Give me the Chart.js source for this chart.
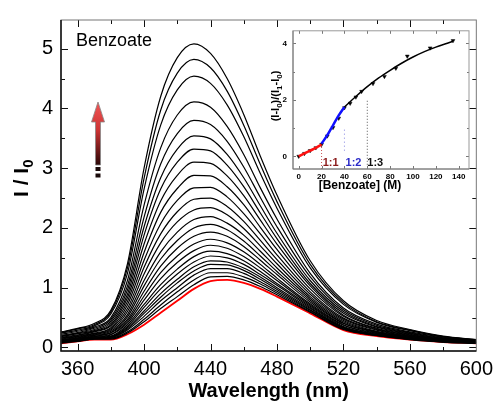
<!DOCTYPE html>
<html>
<head>
<meta charset="utf-8">
<script src="https://cdn.jsdelivr.net/npm/chart.js@4.4.1/dist/chart.umd.min.js"></script>
<style>
  body { margin: 0; background: #fff; }
  #wrap { position: relative; width: 499px; height: 404px; }
  #main { position: absolute; left: 0; top: 0; }
  #inset { position: absolute; left: 262px; top: 20px; }
</style>
</head>
<body>
<div id="wrap">
  <canvas id="main" width="499" height="404"></canvas>
  <canvas id="inset" width="220" height="180"></canvas>
</div>
<script>
// emission spectra, I/I0 vs wavelength (nm)
const wavelengths = [350, 360, 370, 380, 390, 400, 410, 420, 430, 440, 450, 460, 470, 480, 500, 520, 540, 560, 580, 600];
const spectra = [
  [0.26, 0.32, 0.40, 0.62, 1.40, 3.00, 4.20, 4.85, 5.08, 4.92, 4.50, 3.90, 3.20, 2.55, 1.45, 0.78, 0.45, 0.30, 0.19, 0.13],
  [0.25, 0.31, 0.38, 0.59, 1.33, 2.83, 3.97, 4.59, 4.82, 4.68, 4.29, 3.72, 3.06, 2.44, 1.39, 0.75, 0.43, 0.29, 0.18, 0.13],
  [0.24, 0.29, 0.36, 0.56, 1.24, 2.65, 3.72, 4.31, 4.54, 4.42, 4.06, 3.53, 2.91, 2.33, 1.33, 0.72, 0.42, 0.28, 0.18, 0.12],
  [0.22, 0.27, 0.34, 0.50, 1.12, 2.38, 3.34, 3.89, 4.11, 4.02, 3.70, 3.23, 2.67, 2.15, 1.24, 0.66, 0.39, 0.26, 0.17, 0.12],
  [0.20, 0.25, 0.32, 0.47, 1.03, 2.18, 3.07, 3.58, 3.80, 3.73, 3.45, 3.02, 2.51, 2.02, 1.18, 0.63, 0.37, 0.25, 0.16, 0.11],
  [0.19, 0.24, 0.30, 0.44, 0.96, 2.02, 2.84, 3.32, 3.54, 3.49, 3.23, 2.84, 2.37, 1.91, 1.12, 0.60, 0.35, 0.24, 0.15, 0.11],
  [0.18, 0.23, 0.28, 0.41, 0.89, 1.88, 2.65, 3.10, 3.32, 3.29, 3.05, 2.69, 2.25, 1.82, 1.07, 0.57, 0.34, 0.23, 0.15, 0.10],
  [0.17, 0.21, 0.27, 0.38, 0.83, 1.73, 2.45, 2.88, 3.10, 3.08, 2.87, 2.54, 2.13, 1.73, 1.03, 0.54, 0.32, 0.22, 0.14, 0.10],
  [0.16, 0.20, 0.26, 0.36, 0.77, 1.59, 2.26, 2.66, 2.88, 2.87, 2.69, 2.39, 2.01, 1.64, 0.98, 0.52, 0.31, 0.21, 0.14, 0.10],
  [0.15, 0.19, 0.24, 0.33, 0.71, 1.46, 2.07, 2.46, 2.67, 2.68, 2.52, 2.24, 1.90, 1.55, 0.93, 0.49, 0.30, 0.20, 0.13, 0.10],
  [0.14, 0.18, 0.23, 0.31, 0.65, 1.34, 1.90, 2.27, 2.48, 2.50, 2.36, 2.11, 1.79, 1.47, 0.89, 0.47, 0.29, 0.19, 0.13, 0.09],
  [0.13, 0.17, 0.22, 0.29, 0.60, 1.23, 1.75, 2.10, 2.30, 2.34, 2.22, 1.99, 1.70, 1.40, 0.85, 0.45, 0.27, 0.19, 0.12, 0.09],
  [0.12, 0.16, 0.21, 0.27, 0.55, 1.12, 1.60, 1.93, 2.14, 2.19, 2.08, 1.88, 1.61, 1.33, 0.82, 0.43, 0.26, 0.18, 0.12, 0.09],
  [0.12, 0.15, 0.20, 0.25, 0.51, 1.03, 1.48, 1.79, 2.00, 2.06, 1.97, 1.78, 1.53, 1.27, 0.79, 0.41, 0.26, 0.17, 0.12, 0.09],
  [0.11, 0.15, 0.19, 0.24, 0.47, 0.94, 1.36, 1.66, 1.86, 1.93, 1.86, 1.69, 1.46, 1.22, 0.76, 0.40, 0.25, 0.17, 0.11, 0.08],
  [0.11, 0.14, 0.18, 0.22, 0.44, 0.86, 1.25, 1.53, 1.73, 1.81, 1.75, 1.60, 1.39, 1.16, 0.73, 0.38, 0.24, 0.16, 0.11, 0.08],
  [0.10, 0.14, 0.17, 0.21, 0.41, 0.79, 1.15, 1.42, 1.62, 1.71, 1.66, 1.52, 1.33, 1.12, 0.71, 0.37, 0.23, 0.16, 0.11, 0.08],
  [0.10, 0.13, 0.17, 0.19, 0.38, 0.72, 1.05, 1.31, 1.52, 1.61, 1.57, 1.45, 1.27, 1.07, 0.69, 0.35, 0.22, 0.15, 0.10, 0.08],
  [0.09, 0.12, 0.16, 0.18, 0.35, 0.67, 0.98, 1.23, 1.43, 1.53, 1.50, 1.39, 1.22, 1.04, 0.67, 0.34, 0.22, 0.15, 0.10, 0.08],
  [0.09, 0.12, 0.15, 0.17, 0.33, 0.61, 0.90, 1.14, 1.35, 1.45, 1.43, 1.33, 1.18, 1.00, 0.65, 0.33, 0.21, 0.15, 0.10, 0.08],
  [0.08, 0.12, 0.15, 0.17, 0.31, 0.57, 0.84, 1.08, 1.28, 1.39, 1.38, 1.29, 1.14, 0.97, 0.63, 0.33, 0.21, 0.14, 0.10, 0.07],
  [0.08, 0.11, 0.15, 0.16, 0.29, 0.52, 0.78, 1.00, 1.21, 1.32, 1.32, 1.24, 1.10, 0.94, 0.62, 0.32, 0.20, 0.14, 0.10, 0.07],
  [0.08, 0.11, 0.14, 0.15, 0.26, 0.47, 0.71, 0.93, 1.13, 1.25, 1.25, 1.18, 1.06, 0.91, 0.60, 0.31, 0.20, 0.14, 0.09, 0.07],
  [0.07, 0.10, 0.14, 0.14, 0.24, 0.43, 0.65, 0.85, 1.05, 1.18, 1.19, 1.13, 1.02, 0.88, 0.59, 0.30, 0.20, 0.13, 0.09, 0.07]
];
// free host (no benzoate)
const redSpectrum = [0.07, 0.10, 0.13, 0.13, 0.22, 0.38, 0.58, 0.78, 0.98, 1.11, 1.13, 1.08, 0.98, 0.85, 0.57, 0.29, 0.19, 0.13, 0.09, 0.07];
const xTicks = [360, 400, 440, 480, 520, 560, 600];
const xMinor = [380, 420, 460, 500, 540, 580];
const yTicks = [0, 1, 2, 3, 4, 5];
const yMinor = [0.5, 1.5, 2.5, 3.5, 4.5, 5.5];

// inset: titration curve
const concs = [0, 5, 10, 15, 20, 25, 30, 35, 40, 45, 50, 55, 65, 75, 85, 95, 115, 135];
const ratios = [0.0, 0.1, 0.2, 0.3, 0.42, 0.72, 1.02, 1.35, 1.72, 1.88, 2.1, 2.3, 2.58, 2.83, 3.12, 3.55, 3.84, 4.1];
const fitRedX = [0, 5, 10, 15, 20];
const fitRedY = [0.0, 0.1, 0.2, 0.3, 0.42];
const fitBlueX = [20, 25, 30, 35, 40];
const fitBlueY = [0.45, 0.75, 1.1, 1.45, 1.75];
const fitBlackX = [40, 50, 60, 70, 80, 90, 100, 110, 120, 130, 135];
const fitBlackY = [1.75, 2.12, 2.47, 2.78, 3.05, 3.3, 3.52, 3.71, 3.87, 4.01, 4.08];
const insetXTicks = [0, 20, 40, 60, 80, 100, 120, 140];
const insetYTicks = [0, 2, 4];
const insetYMinor = [1, 3];
const stoich = [["1:1", 21, "#8b1a1a"], ["1:2", 41, "#2b2bc8"], ["1:3", 60, "#111"]];

const FONT = "'Liberation Sans', Arial, sans-serif";
const pts = (xs, ys) => xs.map((x, i) => ({ x: x, y: ys[i] }));

function drawFrame(chart, o) {
  const { ctx, chartArea: a, scales } = chart;
  const sx = scales.x, sy = scales.y;
  ctx.save();
  ctx.lineWidth = o.lw;
  ctx.strokeStyle = o.color;
  ctx.beginPath();
  const tick = (list, len) => {
    list.forEach(v => {
      const px = Math.round(sx.getPixelForValue(v)) + 0.5;
      if (px < a.left || px > a.right) return;
      ctx.moveTo(px, a.bottom); ctx.lineTo(px, a.bottom - len);
      ctx.moveTo(px, a.top); ctx.lineTo(px, a.top + len);
    });
  };
  const ytick = (list, len) => {
    list.forEach(v => {
      const py = Math.round(sy.getPixelForValue(v)) + 0.5;
      if (py < a.top || py > a.bottom) return;
      ctx.moveTo(a.left, py); ctx.lineTo(a.left + len, py);
      ctx.moveTo(a.right, py); ctx.lineTo(a.right - len, py);
    });
  };
  tick(o.xMajor, o.major); tick(o.xMinor, o.minor);
  ytick(o.yMajor, o.major); ytick(o.yMinor, o.minor);
  ctx.stroke();
  // box
  ctx.strokeStyle = o.sideColor;
  ctx.strokeRect(a.left, a.top, a.right - a.left, a.bottom - a.top);
  ctx.strokeStyle = o.color;
  ctx.lineWidth = o.axisLw;
  ctx.beginPath();
  ctx.moveTo(a.left, a.top); ctx.lineTo(a.left, a.bottom); ctx.lineTo(a.right, a.bottom);
  ctx.stroke();
  ctx.restore();
}

function drawSubText(ctx, parts, size, subSize, subDrop) {
  // draws parts at current origin, left aligned, returns width
  let x = 0;
  parts.forEach(p => {
    ctx.font = "bold " + (p[1] ? subSize : size) + "px " + FONT;
    ctx.fillText(p[0], x, p[1] ? subDrop : 0);
    x += ctx.measureText(p[0]).width;
  });
  return x;
}
function measureSubText(ctx, parts, size, subSize) {
  let w = 0;
  parts.forEach(p => {
    ctx.font = "bold " + (p[1] ? subSize : size) + "px " + FONT;
    w += ctx.measureText(p[0]).width;
  });
  return w;
}

const mainDecor = {
  id: "mainDecor",
  afterDraw(chart) {
    drawFrame(chart, {
      xMajor: xTicks, xMinor: xMinor, yMajor: yTicks, yMinor: yMinor,
      major: 7, minor: 4, lw: 1, axisLw: 1.5, color: "#111", sideColor: "#777"
    });
    const ctx = chart.ctx;
    ctx.save();
    ctx.fillStyle = "#000";
    ctx.textBaseline = "alphabetic";
    // x title
    ctx.font = "bold 20px " + FONT;
    ctx.textAlign = "center";
    ctx.fillText("Wavelength (nm)", (chart.chartArea.left + chart.chartArea.right) / 2, 397);
    // y title
    ctx.save();
    ctx.translate(28, 197);
    ctx.rotate(-Math.PI / 2);
    ctx.textAlign = "left";
    drawSubText(ctx, [["I / I", false], ["0", true]], 21, 15, 5);
    ctx.restore();
    // label
    ctx.font = "18px " + FONT;
    ctx.textAlign = "left";
    ctx.fillText("Benzoate", 76, 46);
    // arrow
    const cx = 98, tip = 102, hb = 122, se = 165;
    const g = ctx.createLinearGradient(0, tip, 0, se);
    g.addColorStop(0, "#f25555");
    g.addColorStop(0.45, "#cc3333");
    g.addColorStop(1, "#2a0606");
    ctx.beginPath();
    ctx.moveTo(cx, tip);
    ctx.lineTo(cx + 6.5, hb);
    ctx.lineTo(cx + 2.5, hb);
    ctx.lineTo(cx + 2.5, se);
    ctx.lineTo(cx - 2.5, se);
    ctx.lineTo(cx - 2.5, hb);
    ctx.lineTo(cx - 6.5, hb);
    ctx.closePath();
    ctx.fillStyle = g;
    ctx.fill();
    ctx.strokeStyle = "#888";
    ctx.lineWidth = 0.8;
    ctx.stroke();
    ctx.fillStyle = "#1a0a0a";
    ctx.fillRect(cx - 2.5, 167, 5, 4);
    ctx.fillRect(cx - 2.5, 173.5, 5, 4);
    ctx.restore();
  }
};

const datasets = spectra.map(vals => ({
  data: pts(wavelengths, vals),
  borderColor: "#000",
  borderWidth: 1.2,
  pointRadius: 0,
  cubicInterpolationMode: "monotone",
  fill: false
}));
datasets.push({
  data: pts(wavelengths, redSpectrum),
  borderColor: "#ff0000",
  borderWidth: 1.8,
  pointRadius: 0,
  cubicInterpolationMode: "monotone",
  fill: false
});

new Chart(document.getElementById("main").getContext("2d"), {
  type: "line",
  data: { datasets: datasets },
  options: {
    responsive: false,
    animation: false,
    devicePixelRatio: 1,
    layout: { padding: { left: 0, top: 14, right: 18, bottom: 0 } },
    plugins: { legend: { display: false }, tooltip: { enabled: false } },
    scales: {
      x: {
        type: "linear",
        min: 350,
        max: 600,
        grid: { display: false, drawTicks: false },
        border: { display: false },
        afterBuildTicks: s => { s.ticks = xTicks.map(v => ({ value: v })); },
        afterFit: s => { s.height = 53; },
        ticks: { color: "#000", padding: 6, font: { family: FONT, size: 20 }, maxRotation: 0, autoSkip: false }
      },
      y: {
        type: "linear",
        min: -0.06,
        max: 5.48,
        grid: { display: false, drawTicks: false },
        border: { display: false },
        afterBuildTicks: s => { s.ticks = yTicks.map(v => ({ value: v })); },
        afterFit: s => { s.width = 61; },
        ticks: { color: "#000", padding: 8, font: { family: FONT, size: 20 } }
      }
    }
  },
  plugins: [mainDecor]
});

// ---- inset ----
const insetDecor = {
  id: "insetDecor",
  afterDraw(chart) {
    drawFrame(chart, {
      xMajor: insetXTicks, xMinor: [], yMajor: insetYTicks, yMinor: insetYMinor,
      major: 3, minor: 2, lw: 1, axisLw: 1, color: "#777", sideColor: "#999"
    });
    const ctx = chart.ctx;
    const sx = chart.scales.x, sy = chart.scales.y;
    ctx.save();
    ctx.textBaseline = "alphabetic";
    ctx.fillStyle = "#000";
    // x title
    ctx.font = "bold 12px " + FONT;
    ctx.textAlign = "center";
    ctx.fillText("[Benzoate] (M)", 98, 169);
    // y title
    const parts = [["(I-I", false], ["0", true], [")/(I", false], ["1", true], ["-I", false], ["0", true], [")", false]];
    const w = measureSubText(ctx, parts, 11, 8);
    ctx.save();
    ctx.translate(17, 76 + w / 2);
    ctx.rotate(-Math.PI / 2);
    ctx.textAlign = "left";
    drawSubText(ctx, parts, 11, 8, 3);
    ctx.restore();
    // stoichiometry labels
    ctx.font = "bold 11px " + FONT;
    ctx.textAlign = "left";
    stoich.forEach(s => {
      ctx.fillStyle = s[2];
      ctx.fillText(s[0], sx.getPixelForValue(s[1]), sy.getPixelForValue(-0.2) + 4);
    });
    ctx.restore();
  }
};

const insetTickFont = { family: FONT, size: 8, weight: "bold" };
new Chart(document.getElementById("inset").getContext("2d"), {
  type: "scatter",
  data: {
    datasets: [
      { type: "line", data: [{ x: 20, y: -0.45 }, { x: 20, y: 0.38 }], borderColor: "#c85050", borderWidth: 1, borderDash: [1, 2], pointRadius: 0 },
      { type: "line", data: [{ x: 40, y: 0.2 }, { x: 40, y: 1.0 }], borderColor: "#8080e0", borderWidth: 1, borderDash: [1, 3], pointRadius: 0 },
      { type: "line", data: [{ x: 60, y: -0.3 }, { x: 60, y: 2.0 }], borderColor: "#555", borderWidth: 1, borderDash: [1, 2], pointRadius: 0 },
      { type: "line", data: pts(fitBlackX, fitBlackY), borderColor: "#000", borderWidth: 1.5, pointRadius: 0, cubicInterpolationMode: "monotone" },
      { type: "line", data: pts(fitBlueX, fitBlueY), borderColor: "#1010ff", borderWidth: 2.5, pointRadius: 0, cubicInterpolationMode: "monotone" },
      { type: "line", data: pts(fitRedX, fitRedY), borderColor: "#ff1010", borderWidth: 2.5, pointRadius: 0, cubicInterpolationMode: "monotone" },
      { data: pts(concs, ratios), pointStyle: "triangle", rotation: 180, pointRadius: 2.2, backgroundColor: "#000", borderColor: "#000", borderWidth: 0.5 }
    ]
  },
  options: {
    responsive: false,
    animation: false,
    devicePixelRatio: 1,
    layout: { padding: { left: 0, top: 8, right: 13, bottom: 0 } },
    plugins: { legend: { display: false }, tooltip: { enabled: false } },
    scales: {
      x: {
        type: "linear",
        min: -5,
        max: 149,
        grid: { display: false, drawTicks: false },
        border: { display: false },
        afterBuildTicks: s => { s.ticks = insetXTicks.map(v => ({ value: v })); },
        afterFit: s => { s.height = 31; },
        ticks: { color: "#000", padding: 3, font: insetTickFont, maxRotation: 0, autoSkip: false }
      },
      y: {
        type: "linear",
        min: -0.45,
        max: 4.45,
        grid: { display: false, drawTicks: false },
        border: { display: false },
        afterBuildTicks: s => { s.ticks = insetYTicks.map(v => ({ value: v })); },
        afterFit: s => { s.width = 31; },
        ticks: { color: "#000", padding: 6, font: insetTickFont }
      }
    }
  },
  plugins: [insetDecor]
});
</script>
</body>
</html>
